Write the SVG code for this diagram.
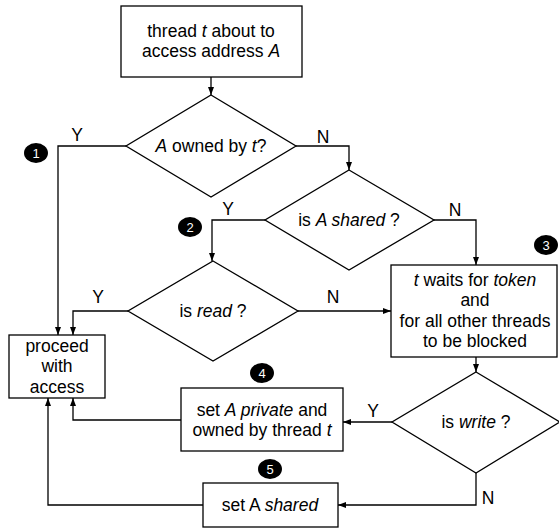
<svg xmlns="http://www.w3.org/2000/svg" width="559" height="529" viewBox="0 0 559 529">
<defs>
<marker id="ah" viewBox="0 0 8 6" refX="8" refY="3" markerWidth="8" markerHeight="6" markerUnits="userSpaceOnUse" orient="auto">
<path d="M0,0 L8,3 L0,6 Z" fill="#000"/>
</marker>
</defs>
<style>
.shape{fill:#fff;stroke:#000;stroke-width:1.3}
.t{font-family:"Liberation Sans",Arial,sans-serif;font-size:17.5px;fill:#000;text-anchor:middle}
.lbl{font-family:"Liberation Sans",Arial,sans-serif;font-size:17.5px;fill:#000;text-anchor:middle}
.i{font-style:italic}
.badge{fill:#000}
.bn{font-family:"Liberation Sans",Arial,sans-serif;font-size:13px;fill:#fff;text-anchor:middle}
.c{fill:none;stroke:#000;stroke-width:1.3;marker-end:url(#ah)}
</style>
<rect width="559" height="529" fill="#fff"/>
<g id="connectors">
<path class="c" d="M211,77 L211,95"/>
<path class="c" d="M126,146 L58,146 L58,335"/>
<path class="c" d="M296,146 L349,146 L349,170"/>
<path class="c" d="M265,220 L212,220 L212,261"/>
<path class="c" d="M434,220 L476,220 L476,265"/>
<path class="c" d="M128,311 L73,311 L73,335"/>
<path class="c" d="M298,311 L391,311"/>
<path class="c" d="M476,357 L476,372"/>
<path class="c" d="M392,422 L343,422"/>
<path class="c" d="M476,473 L476,505 L338,505"/>
<path class="c" d="M181,420 L73,420 L73,398"/>
<path class="c" d="M203,505 L48,505 L48,398"/>
<text class="lbl" x="77" y="141">Y</text>
<text class="lbl" x="323" y="143">N</text>
<text class="lbl" x="228" y="215">Y</text>
<text class="lbl" x="455" y="216">N</text>
<text class="lbl" x="98" y="303">Y</text>
<text class="lbl" x="333" y="303">N</text>
<text class="lbl" x="373" y="417">Y</text>
<text class="lbl" x="488" y="504">N</text>
</g>
<g id="start">
<rect class="shape" x="121" y="6" width="181" height="71"/>
<text class="t" x="211" y="37">thread <tspan class="i">t</tspan> about to</text>
<text class="t" x="211" y="57">access address <tspan class="i">A</tspan></text>
</g>
<g id="owned">
<polygon class="shape" points="211,95 296,146 211,197 126,146"/>
<text class="t" x="211" y="152"><tspan class="i">A</tspan> owned by <tspan class="i">t</tspan>?</text>
</g>
<g id="shared">
<polygon class="shape" points="349,170 434,220 349,270 265,220"/>
<text class="t" x="349" y="226">is <tspan class="i">A shared</tspan> ?</text>
</g>
<g id="read">
<polygon class="shape" points="213,261 298,311 213,361 128,311"/>
<text class="t" x="213" y="317">is <tspan class="i">read</tspan> ?</text>
</g>
<g id="wait">
<rect class="shape" x="391" y="265" width="166" height="92"/>
<text class="t" x="475" y="286"><tspan class="i">t</tspan> waits for <tspan class="i">token</tspan></text>
<text class="t" x="475" y="306">and</text>
<text class="t" x="475" y="327">for all other threads</text>
<text class="t" x="475" y="347">to be blocked</text>
</g>
<g id="write">
<polygon class="shape" points="476,372 560,422 476,473 392,422"/>
<text class="t" x="476" y="428">is <tspan class="i">write</tspan> ?</text>
</g>
<g id="proceed">
<rect class="shape" x="9" y="335" width="96" height="63"/>
<text class="t" x="57" y="352">proceed</text>
<text class="t" x="57" y="372">with</text>
<text class="t" x="57" y="393">access</text>
</g>
<g id="private">
<rect class="shape" x="181" y="388" width="162" height="63"/>
<text class="t" x="262" y="416">set <tspan class="i">A private</tspan> and</text>
<text class="t" x="262" y="436">owned by thread <tspan class="i">t</tspan></text>
</g>
<g id="setshared">
<rect class="shape" x="203" y="483" width="135" height="44"/>
<text class="t" x="270" y="511">set A <tspan class="i">shared</tspan></text>
</g>
<g id="badge1"><ellipse class="badge" cx="36" cy="153" rx="12" ry="10"/><text class="bn" x="36" y="157.5">1</text></g>
<g id="badge2"><ellipse class="badge" cx="190" cy="227" rx="12" ry="10"/><text class="bn" x="190" y="231.5">2</text></g>
<g id="badge3"><ellipse class="badge" cx="546" cy="245" rx="12" ry="10"/><text class="bn" x="546" y="249.5">3</text></g>
<g id="badge4"><ellipse class="badge" cx="262" cy="373" rx="12" ry="10"/><text class="bn" x="262" y="377.5">4</text></g>
<g id="badge5"><ellipse class="badge" cx="270" cy="469" rx="12" ry="10"/><text class="bn" x="270" y="473.5">5</text></g>
</svg>
